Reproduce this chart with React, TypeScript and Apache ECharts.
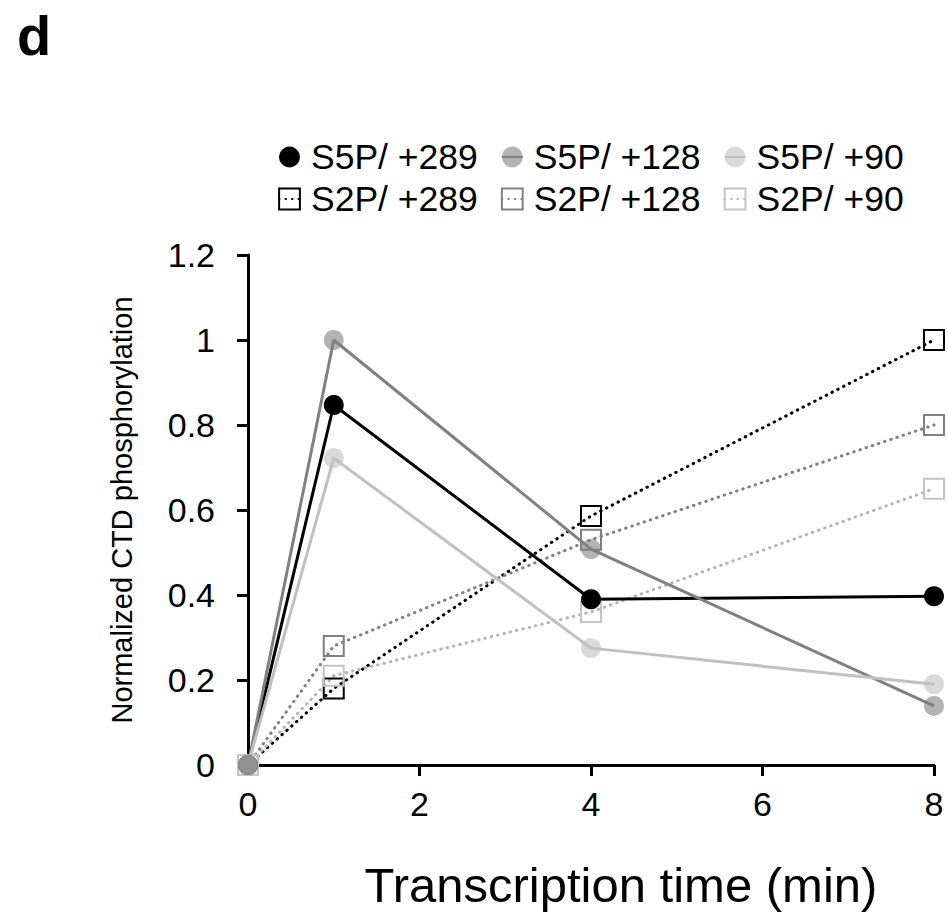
import React, { useEffect, useRef } from "react";
import * as echarts from "echarts";

const timePoints = [0, 1, 4, 8];
const s5p289 = [0, 0.847, 0.39, 0.397];
const s5p128 = [0, 1.0, 0.508, 0.139];
const s5p90 = [0, 0.722, 0.275, 0.19];
const s2p289 = [0, 0.18, 0.586, 1.0];
const s2p128 = [0, 0.28, 0.53, 0.8];
const s2p90 = [0, 0.21, 0.36, 0.65];

const seriesNames = ["S5P/ +289", "S5P/ +128", "S5P/ +90", "S2P/ +289", "S2P/ +128", "S2P/ +90"];

const FONT = "Liberation Sans, Arial, sans-serif";

export default function App() {
  const ref = useRef<HTMLDivElement>(null);
  useEffect(() => {
    if (!ref.current) return;
    const chart = echarts.init(ref.current, null, { renderer: "svg" });
    const pts = (vals: number[]) => timePoints.map((t, i) => [t, vals[i]]);
    const circle = (name: string, vals: number[], color: string, opacity: number) => ({
      name,
      type: "line",
      data: pts(vals),
      symbol: "circle",
      symbolSize: 20,
      lineStyle: { color, width: 3 },
      itemStyle: { color, opacity, borderWidth: 0 },
      z: 3,
    });
    const square = (name: string, vals: number[], line: string, border: string) => ({
      name,
      type: "line",
      data: pts(vals),
      symbol: "rect",
      symbolSize: 20,
      lineStyle: { color: line, width: 3, type: [0.5, 6], cap: "round" },
      itemStyle: { color: "rgba(255,255,255,0)", borderColor: border, borderWidth: 2 },
      z: 2,
    });
    const legendCommon = {
      left: 273,
      itemWidth: 21,
      itemHeight: 26,
      itemGap: 23,
      textStyle: { fontSize: 35.5, color: "#000", fontFamily: FONT, padding: [0, 0, 0, 6] },
    };
    chart.setOption({
      animation: false,
      backgroundColor: "#fff",
      title: {
        text: "d",
        left: 12,
        top: 2,
        textStyle: { fontSize: 56, fontWeight: "bold", color: "#000", fontFamily: FONT },
      },
      legend: [
        { ...legendCommon, top: 134, data: seriesNames.slice(0, 3) },
        { ...legendCommon, top: 176, data: seriesNames.slice(3) },
      ],
      grid: { left: 248, right: 14, top: 255, bottom: 152, containLabel: false },
      xAxis: {
        type: "value",
        min: 0,
        max: 8,
        interval: 2,
        splitLine: { show: false },
        axisLine: { lineStyle: { color: "#000", width: 3 } },
        axisTick: { show: true, length: 11, lineStyle: { color: "#000", width: 3 } },
        axisLabel: { fontSize: 34, color: "#000", fontFamily: FONT, margin: 22 },
        name: "Transcription time (min)",
        nameLocation: "middle",
        nameGap: 95,
        nameTextStyle: { fontSize: 49, color: "#000", fontFamily: FONT, padding: [0, 0, 0, 60] },
      },
      yAxis: {
        type: "value",
        min: 0,
        max: 1.2,
        interval: 0.2,
        splitLine: { show: false },
        axisLine: { show: true, lineStyle: { color: "#000", width: 3 } },
        axisTick: { show: true, length: 11, lineStyle: { color: "#000", width: 3 } },
        axisLabel: { fontSize: 34, color: "#000", fontFamily: FONT, margin: 33 },
        name: "Normalized CTD phosphorylation",
        nameLocation: "middle",
        nameGap: 112,
        nameTextStyle: { fontSize: 29, color: "#000", fontFamily: FONT },
      },
      series: [
        square(seriesNames[3], s2p289, "#000", "#000"),
        square(seriesNames[4], s2p128, "#808080", "#808080"),
        square(seriesNames[5], s2p90, "#b4b4b4", "#c4c4c4"),
        circle(seriesNames[0], s5p289, "#000", 1),
        circle(seriesNames[1], s5p128, "#808080", 0.6),
        circle(seriesNames[2], s5p90, "#c0c0c0", 0.6),
      ],
    });
    return () => chart.dispose();
  }, []);
  return (
    <div
      ref={ref}
      style={{ position: "absolute", left: 0, top: 0, width: 948, height: 917 }}
    />
  );
}
